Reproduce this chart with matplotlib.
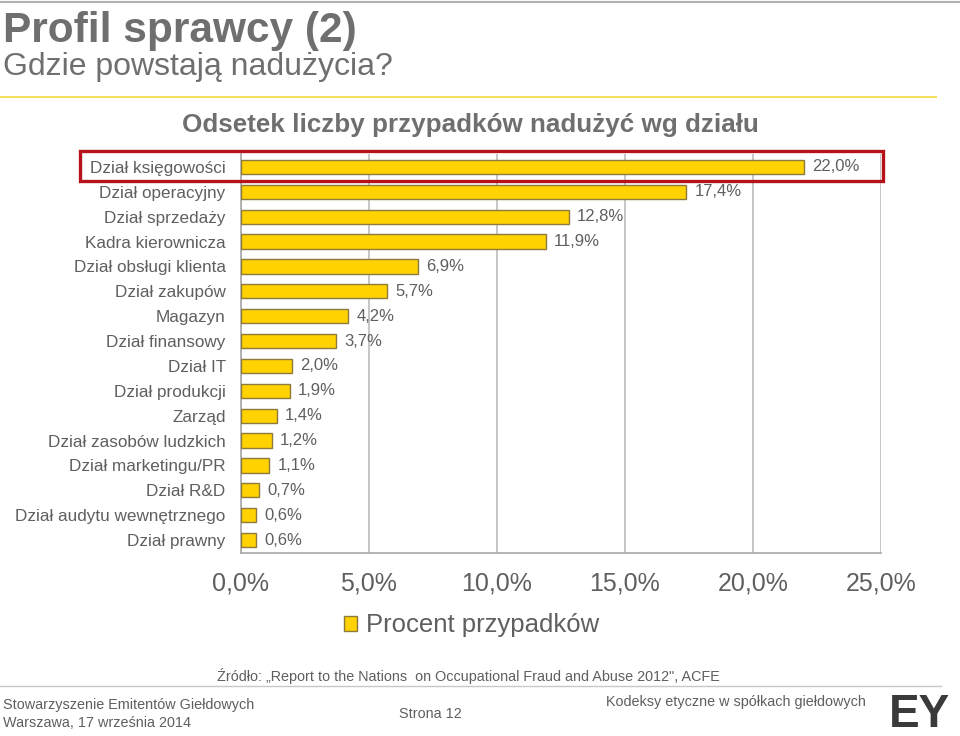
"""Odsetek liczby przypadków nadużyć wg działu - odtworzenie slajdu
"""

import matplotlib
matplotlib.use('Agg')
import matplotlib.pyplot as plt
from matplotlib.patches import Rectangle
from matplotlib.lines import Line2D
from matplotlib.ticker import FuncFormatter

plt.rcParams['font.family'] = ['Liberation Sans', 'DejaVu Sans']

#dane
departments = ['Dział księgowości', 'Dział operacyjny', 'Dział sprzedaży', 'Kadra kierownicza',
               'Dział obsługi klienta', 'Dział zakupów', 'Magazyn', 'Dział finansowy', 'Dział IT',
               'Dział produkcji', 'Zarząd', 'Dział zasobów ludzkich', 'Dział marketingu/PR',
               'Dział R&D', 'Dział audytu wewnętrznego', 'Dział prawny']
percent = [22.0, 17.4, 12.8, 11.9, 6.9, 5.7, 4.2, 3.7, 2.0, 1.9, 1.4, 1.2, 1.1, 0.7, 0.6, 0.6]
x_ticks = [0, 5, 10, 15, 20, 25]

gray = '#6f6f6f'
text_gray = '#5f5f5f'
bar_color = '#FFD200'
bar_edge = '#8c7b3c'

fig = plt.figure(figsize=(9.6, 7.36), dpi=100)
ax = fig.add_axes([0.251, 0.2493, 0.6667, 0.5408])

y = list(range(len(departments)))
ax.barh(y, percent, height=0.57, color=bar_color, edgecolor=bar_edge, linewidth=1.0,
        label='Procent przypadków', zorder=3)
for yi, v in zip(y, percent):
    ax.annotate(f'{v:.1f}%'.replace('.', ','), (v, yi), xytext=(6, 0), textcoords='offset points',
                va='center', ha='left', fontsize=12, color=text_gray, zorder=4)

ax.set_xlim(0, 25)
ax.set_ylim(len(departments) - 0.5, -0.5)
ax.set_yticks(y)
ax.set_yticklabels(departments, fontsize=12.3, color=text_gray)
ax.set_xticks(x_ticks)
ax.xaxis.set_major_formatter(FuncFormatter(lambda v, p: f'{v:.1f}%'.replace('.', ',')))
ax.tick_params(axis='x', labelsize=18, labelcolor=text_gray, length=0, pad=14)
ax.tick_params(axis='y', length=0, pad=11)
ax.grid(axis='x', color='#bcbcbc', linewidth=1.2, zorder=0)
for s in ['top', 'right']:
    ax.spines[s].set_visible(False)
for s in ['left', 'bottom']:
    ax.spines[s].set_color('#a8a8a8')
    ax.spines[s].set_linewidth(1.2)

leg = ax.legend(loc='upper center', bbox_to_anchor=(0.36, -0.095), frameon=False, fontsize=18.5,
                handlelength=0.5, handleheight=0.5, handletextpad=0.35, labelcolor=text_gray)

#tytuły
fig.text(0.003, 1 - 42 / 736, 'Profil sprawcy (2)', fontsize=30.5, fontweight='bold', color=gray, va='baseline')
fig.text(0.003, 1 - 75 / 736, 'Gdzie powstają nadużycia?', fontsize=23, color=gray, va='baseline')
fig.add_artist(Line2D([0, 1], [0.997, 0.997], color='#b0b0b0', linewidth=1.5))
fig.add_artist(Line2D([0, 0.975], [0.868, 0.868], color='#f2df60', linewidth=1.5))
fig.text(0.490, 1 - 132 / 736, 'Odsetek liczby przypadków nadużyć wg działu', fontsize=18.7, fontweight='bold',
         color=gray, ha='center', va='baseline')

#czerwona ramka wokół pierwszego wiersza
fig.add_artist(Rectangle((80 / 960, 1 - 181 / 736), (883 - 80) / 960, 30 / 736, fill=False,
                         edgecolor='#b5121b', linewidth=2.4, zorder=5))

#stopka
narrow = ['Liberation Sans Narrow', 'Liberation Sans']
fig.text(0.488, 0.081, 'Źródło: „Report to the Nations  on Occupational Fraud and Abuse 2012", ACFE',
         family=narrow, fontsize=10.4, color=text_gray, ha='center', va='center')
fig.add_artist(Line2D([0, 0.98], [0.068, 0.068], color='#c8c8c8', linewidth=1))
fig.text(0.003, 0.042, 'Stowarzyszenie Emitentów Giełdowych', family=narrow,
         fontsize=10.4, color=text_gray, va='center')
fig.text(0.003, 0.018, 'Warszawa, 17 września 2014', family=narrow,
         fontsize=10.4, color=text_gray, va='center')
fig.text(0.448, 0.030, 'Strona 12', family=narrow,
         fontsize=10.4, color=text_gray, ha='center', va='center')
fig.text(0.7667, 0.046, 'Kodeksy etyczne w spółkach giełdowych', family=narrow,
         fontsize=10.4, color=text_gray, ha='center', va='center')
fig.text(0.958, 0.029, 'EY', fontsize=33, fontweight='bold', color='#3a3a3a', ha='center', va='center',
         family=narrow)

fig.savefig('out.png', dpi=100)
